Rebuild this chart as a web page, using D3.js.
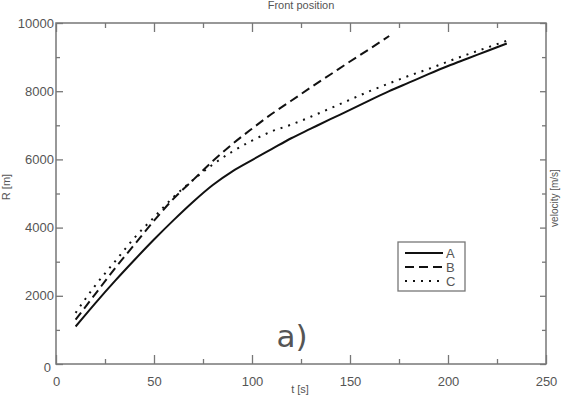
<!DOCTYPE html>
<html>
<head>
<meta charset="utf-8">
<script src="https://cdn.jsdelivr.net/npm/d3@7"></script>
<style>
  html, body { margin: 0; padding: 0; background: #fff; }
  svg { display: block; }
  text { font-family: "Liberation Sans", Arial, sans-serif; fill: #555; }
</style>
</head>
<body>
<svg id="chart" width="561" height="396"></svg>
<script>
// Front position R(t) for three cases
const timeA = [10, 20, 30, 40, 50, 60, 70, 80, 90, 100, 110, 120, 130, 140, 150, 160, 170, 180, 190, 200, 210, 220, 230];
const radiusA = [1100, 1780, 2430, 3050, 3650, 4220, 4760, 5250, 5650, 5980, 6300, 6620, 6900, 7180, 7450, 7730, 8000, 8250, 8500, 8740, 8960, 9180, 9400];

const timeB = [10, 20, 30, 40, 50, 60, 70, 80, 90, 100, 110, 120, 130, 140, 150, 160, 170];
const radiusB = [1300, 2050, 2800, 3500, 4200, 4850, 5400, 5950, 6450, 6900, 7330, 7720, 8110, 8490, 8870, 9240, 9620];

const timeC = [10, 20, 30, 40, 50, 60, 70, 80, 90, 100, 110, 120, 130, 140, 150, 160, 170, 180, 190, 200, 210, 220, 230];
const radiusC = [1500, 2300, 3000, 3700, 4300, 4900, 5400, 5850, 6230, 6550, 6820, 7020, 7250, 7500, 7750, 8000, 8230, 8450, 8650, 8870, 9080, 9280, 9480];

const seriesNames = ["A", "B", "C"];
const xTicks = [0, 50, 100, 150, 200, 250];
const yTicks = [0, 2000, 4000, 6000, 8000, 10000];

const svg = d3.select("#chart");
const m = { left: 56, top: 23, right: 546, bottom: 364 };

const x = d3.scaleLinear().domain([0, 250]).range([m.left, m.right]);
const y = d3.scaleLinear().domain([0, 10000]).range([m.bottom, m.top]);

const axisColor = "#777";

// frame
svg.append("rect")
  .attr("x", m.left).attr("y", m.top)
  .attr("width", m.right - m.left).attr("height", m.bottom - m.top)
  .attr("fill", "none").attr("stroke", axisColor).attr("stroke-width", 1.5);

function styleAxis(g) {
  g.select(".domain").remove();
  g.selectAll(".tick line").attr("stroke", axisColor).attr("stroke-width", 1.3);
  g.selectAll(".tick text").attr("fill", "#555").style("font-size", "13px")
    .style("font-family", "'Liberation Sans', Arial, sans-serif");
}

const xMinor = d3.range(25, 250, 50);
const yMinor = d3.range(1000, 10000, 2000);

// bottom axis (ticks point inward)
svg.append("g").attr("transform", `translate(0,${m.bottom})`)
  .call(d3.axisBottom(x).tickValues(xTicks).tickSizeInner(-9).tickSizeOuter(0).tickPadding(13).tickFormat(d3.format("d")))
  .call(styleAxis);
svg.append("g").attr("transform", `translate(0,${m.bottom})`)
  .call(d3.axisBottom(x).tickValues(xMinor).tickSizeInner(-5).tickSizeOuter(0).tickFormat(""))
  .call(styleAxis);

// top axis
svg.append("g").attr("transform", `translate(0,${m.top})`)
  .call(d3.axisTop(x).tickValues(xTicks).tickSizeInner(-9).tickSizeOuter(0).tickFormat(""))
  .call(styleAxis);
svg.append("g").attr("transform", `translate(0,${m.top})`)
  .call(d3.axisTop(x).tickValues(xMinor).tickSizeInner(-5).tickSizeOuter(0).tickFormat(""))
  .call(styleAxis);

// left axis
svg.append("g").attr("transform", `translate(${m.left},0)`)
  .call(d3.axisLeft(y).tickValues(yTicks).tickSizeInner(-7).tickSizeOuter(0).tickPadding(3).tickFormat(d3.format("d")))
  .call(styleAxis)
  .call(g => g.selectAll(".tick text").attr("x", -2))
  .call(g => g.selectAll(".tick").filter(d => d === 0).select("text").attr("dy", "0.55em").attr("x", -5));
svg.append("g").attr("transform", `translate(${m.left},0)`)
  .call(d3.axisLeft(y).tickValues(yMinor).tickSizeInner(-4).tickSizeOuter(0).tickFormat(""))
  .call(styleAxis);

// right axis (velocity scale)
svg.append("g").attr("transform", `translate(${m.right},0)`)
  .call(d3.axisRight(y).tickValues(yTicks).tickSizeInner(-6).tickSizeOuter(0).tickFormat(""))
  .call(styleAxis);
svg.append("g").attr("transform", `translate(${m.right},0)`)
  .call(d3.axisRight(y).tickValues(yMinor).tickSizeInner(-4).tickSizeOuter(0).tickFormat(""))
  .call(styleAxis);

// curves
const line = d3.line().x(d => x(d[0])).y(d => y(d[1])).curve(d3.curveMonotoneX);
const curves = [
  { name: seriesNames[0], pts: d3.zip(timeA, radiusA), dash: null },
  { name: seriesNames[1], pts: d3.zip(timeB, radiusB), dash: "9,5" },
  { name: seriesNames[2], pts: d3.zip(timeC, radiusC), dash: "2,6" }
];
svg.append("g").selectAll("path").data(curves).join("path")
  .attr("d", d => line(d.pts))
  .attr("fill", "none")
  .attr("stroke", "#111")
  .attr("stroke-width", 2)
  .attr("stroke-dasharray", d => d.dash);

// legend
const lg = svg.append("g").attr("transform", "translate(398,242)");
lg.append("rect").attr("width", 67).attr("height", 49)
  .attr("fill", "#fff").attr("stroke", axisColor).attr("stroke-width", 1.3);
curves.forEach((c, i) => {
  const yy = 11 + i * 14;
  lg.append("line").attr("x1", 7).attr("x2", 45).attr("y1", yy).attr("y2", yy)
    .attr("stroke", "#111").attr("stroke-width", 2).attr("stroke-dasharray", c.dash);
  lg.append("text").attr("x", 48).attr("y", yy + 4.5).style("font-size", "13px").text(c.name);
});

// titles and labels
svg.append("text").attr("x", 301).attr("y", 9).attr("text-anchor", "middle")
  .style("font-size", "11px").text("Front position");
svg.append("text").attr("x", 300).attr("y", 393).attr("text-anchor", "middle")
  .style("font-size", "11px").text("t [s]");
svg.append("text").attr("transform", "translate(10,187) rotate(-90)").attr("text-anchor", "middle")
  .style("font-size", "11px").text("R [m]");
svg.append("text").attr("transform", "translate(558,198) rotate(-90)").attr("text-anchor", "middle")
  .style("font-size", "10px").attr("fill", "#888").text("velocity [m/s]");
svg.append("text").attr("x", 292).attr("y", 347).attr("text-anchor", "middle")
  .style("font-size", "31px").attr("fill", "#444").style("font-family", "'DejaVu Sans', sans-serif").text("a)");
</script>
</body>
</html>
